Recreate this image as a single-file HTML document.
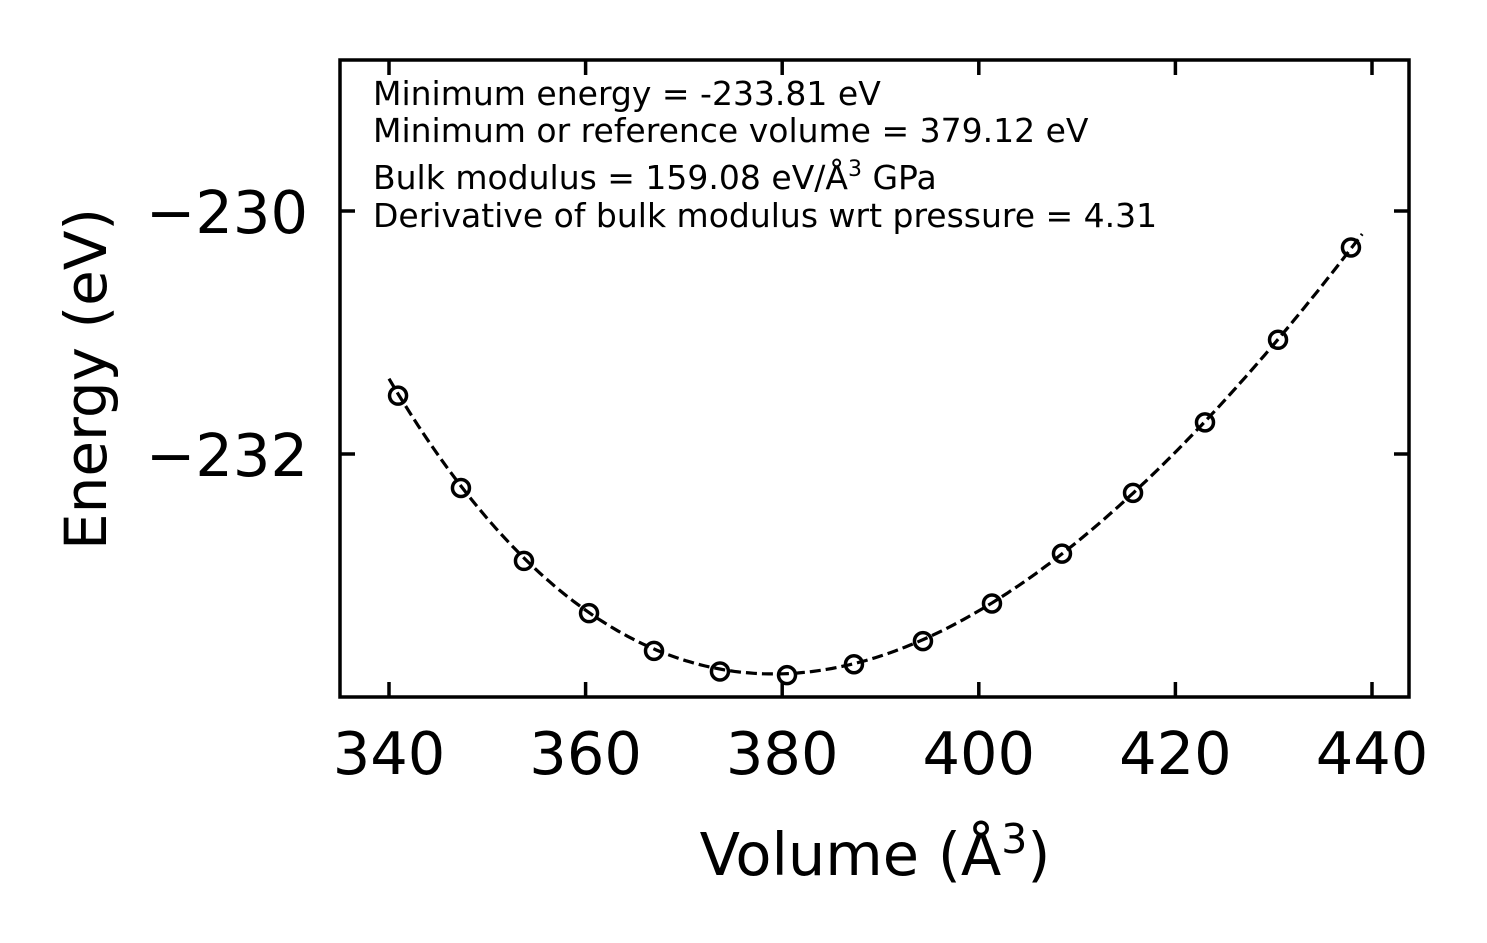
<!DOCTYPE html>
<html><head><meta charset="utf-8"><style>
html,body{margin:0;padding:0;background:#fff;}
svg{display:block;font-family:"DejaVu Sans","Liberation Sans",sans-serif;}
</style></head><body>
<svg id="chart" width="1487" height="943" viewBox="0 0 1487 943">
<rect width="1487" height="943" fill="#fff"/>
<g id="ticks"></g>
<g id="marks"></g>
<rect x="340" y="60" width="1069" height="637" fill="none" stroke="#000" stroke-width="3.5"/>
<g font-size="33" fill="#000">
<text x="373" y="105">Minimum energy = -233.81 eV</text>
<text x="373" y="142">Minimum or reference volume = 379.12 eV</text>
<text x="373" y="189">Bulk modulus = 159.08 eV/Å<tspan font-size="22" dy="-13">3</tspan><tspan dy="13"> GPa</tspan></text>
<text x="373" y="227">Derivative of bulk modulus wrt pressure = 4.31</text>
</g>
<text x="875" y="875" font-size="59" text-anchor="middle">Volume (Å<tspan font-size="41" dy="-22">3</tspan><tspan dy="22">)</tspan></text>
<text transform="translate(106,379) rotate(-90)" font-size="58" text-anchor="middle">Energy (eV)</text>
</svg>
<script>
const volumes=[340.92,347.32,353.73,360.35,366.96,373.67,380.49,387.30,394.32,401.34,408.46,415.69,423.01,430.44,437.86];
const energies=[-231.52,-232.28,-232.88,-233.31,-233.62,-233.79,-233.82,-233.73,-233.54,-233.23,-232.82,-232.32,-231.74,-231.06,-230.30];
const xTicks=[340,360,380,400,420,440];
const yTicks=[-230,-232];
const fitE0=-233.81, fitV0=379.12, fitB=159.08, fitBp=4.31;
const fitRange=[340,439];

const NS="http://www.w3.org/2000/svg";
const X=v=>389+(v-340)*9.83;
const Y=e=>211-(e+230)*121.5;
function mk(tag,attrs,parent){const el=document.createElementNS(NS,tag);for(const k in attrs)el.setAttribute(k,attrs[k]);parent.appendChild(el);return el;}
const ticks=document.getElementById('ticks'),marks=document.getElementById('marks');
xTicks.forEach(t=>{
  const x=X(t);
  const a=mk('line',{x1:x,x2:x,y1:697,y2:682,stroke:'#000','stroke-width':3.5},ticks);
  
  
  const b=mk('line',{x1:x,x2:x,y1:60,y2:75,stroke:'#000','stroke-width':3.5},ticks);
  
  
  const l=mk('text',{x:x,y:774,'font-size':59,'text-anchor':'middle'},ticks);
  l.textContent=t;
  
  
});
yTicks.forEach(t=>{
  const y=Y(t);
  const a=mk('line',{x1:340,x2:355,y1:y,y2:y,stroke:'#000','stroke-width':3.5},ticks);
  
  
  const b=mk('line',{x1:1409,x2:1394,y1:y,y2:y,stroke:'#000','stroke-width':3.5},ticks);
  
  
  const l=mk('text',{x:308,y:y+22,'font-size':59,'text-anchor':'end'},ticks);
  l.textContent='\u2212'+Math.abs(t);
  
  
});
const Bev=fitB/160.21766;
function bm(V){const eta=Math.pow(fitV0/V,2/3);const d=eta-1;return fitE0+9*fitV0*Bev/16*(d*d*d*fitBp+d*d*(6-4*eta));}
let pts=[];
for(let i=0;i<=200;i++){const v=fitRange[0]+(fitRange[1]-fitRange[0])*i/200;pts.push(X(v).toFixed(1)+','+Y(bm(v)).toFixed(1));}
const fit=mk('polyline',{points:pts.join(' '),fill:'none',stroke:'#000','stroke-width':3.2,'stroke-dasharray':'11,5'},marks);


volumes.forEach((v,i)=>{
  const c=mk('circle',{cx:X(v),cy:Y(energies[i]),r:8.5,fill:'none',stroke:'#000','stroke-width':3.5},marks);
  
  
});
</script>
</body></html>
